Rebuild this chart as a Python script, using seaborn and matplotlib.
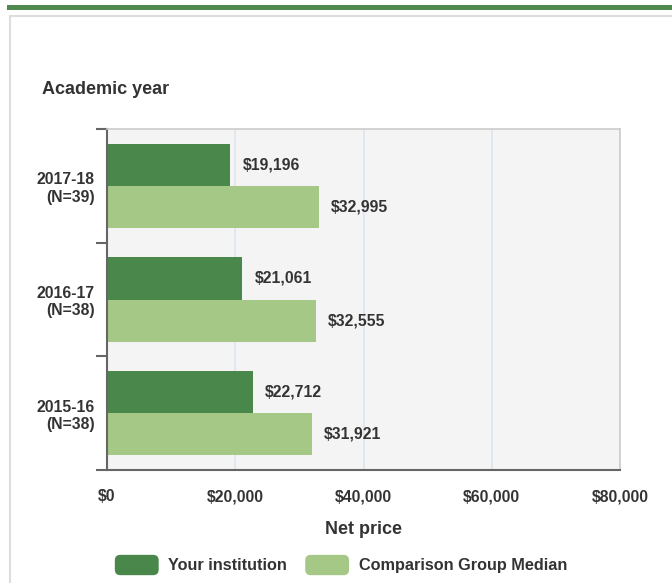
import pandas as pd
import matplotlib
matplotlib.use("Agg")
import matplotlib.pyplot as plt
import seaborn as sns
from matplotlib.patches import Rectangle, FancyBboxPatch
from matplotlib.legend_handler import HandlerPatch
from matplotlib.ticker import FuncFormatter, FixedLocator

years = ["2017-18\n(N=39)", "2016-17\n(N=38)", "2015-16\n(N=38)"]
your_institution = [19196, 21061, 22712]
comparison_median = [32995, 32555, 31921]
series_names = ["Your institution", "Comparison Group Median"]
colors = ["#4a874a", "#a6c887"]

df = pd.DataFrame({
    "year": years * 2,
    "price": your_institution + comparison_median,
    "group": [series_names[0]] * 3 + [series_names[1]] * 3,
})

sns.set_theme(style="white")
plt.rcParams["font.family"] = ["Liberation Sans", "DejaVu Sans"]

fig = plt.figure(figsize=(6.72, 5.83), dpi=100)

# page decoration: green strip and card border
fig.patches.append(Rectangle((7 / 672, 1 - 10 / 583), 1, 5 / 583, transform=fig.transFigure,
                             facecolor="#4e8a4e", edgecolor="none"))
fig.patches.append(Rectangle((10 / 672, -0.1), 1, 1 - 16 / 583 + 0.1, transform=fig.transFigure,
                             facecolor="none", edgecolor="#dddddd", linewidth=1.5))

ax = fig.add_axes([107 / 672, 113 / 583, 513 / 672, 341 / 583])
ax.set_facecolor("#f4f4f4")

sns.barplot(data=df, y="year", x="price", hue="group", orient="h",
            palette=colors, width=0.74, saturation=1, ax=ax, legend=False,
            edgecolor="none")

for c in ax.containers:
    ax.bar_label(c, labels=[f"${v:,.0f}" for v in c.datavalues], padding=9,
                 fontsize=11.3, fontweight="bold", color="#333333")

ax.set_xlim(0, 80000)
ax.set_ylim(2.5, -0.5)
ax.xaxis.set_major_locator(FixedLocator([0, 20000, 40000, 60000, 80000]))
ax.xaxis.set_major_formatter(FuncFormatter(lambda v, p: f"${v:,.0f}"))
ax.grid(axis="x", color="#dce5ee", linewidth=1.2)
ax.set_axisbelow(True)

ax.tick_params(axis="x", length=0, pad=14, labelsize=11.3, labelcolor="#333333")
ax.tick_params(axis="y", which="major", length=0, pad=9, labelsize=11.3, labelcolor="#333333")
ax.yaxis.set_minor_locator(FixedLocator([-0.5, 0.5, 1.5, 2.5]))
ax.tick_params(axis="y", which="minor", left=True, length=8, width=1.5, color="#666666")
for lbl in ax.get_xticklabels() + ax.get_yticklabels():
    lbl.set_fontweight("bold")
for lbl in ax.get_yticklabels():
    lbl.set_multialignment("right")

for side in ["top", "right"]:
    ax.spines[side].set_color("#cccccc")
    ax.spines[side].set_linewidth(1.2)
for side in ["left", "bottom"]:
    ax.spines[side].set_color("#666666")
    ax.spines[side].set_linewidth(1.5)

ax.set_ylabel("")
ax.set_xlabel("Net price", fontsize=13, fontweight="bold", color="#333333", labelpad=12)
fig.text(42 / 672, 1 - 90 / 583, "Academic year", fontsize=13, fontweight="bold",
         color="#333333", va="center", ha="left")


class RoundHandler(HandlerPatch):
    def create_artists(self, legend, orig_handle, xdescent, ydescent, width, height, fontsize, trans):
        p = FancyBboxPatch((-xdescent, -ydescent), width, height,
                           boxstyle="round,pad=0,rounding_size=4",
                           facecolor=orig_handle.get_facecolor(), edgecolor="none",
                           transform=trans)
        return [p]


handles = [Rectangle((0, 0), 1, 1, facecolor=c) for c in colors]
leg = fig.legend(handles, series_names, loc="center", bbox_to_anchor=(341 / 672, 1 - 565 / 583),
                 ncol=2, frameon=False, handlelength=2.7, handleheight=1.55, handletextpad=0.6,
                 columnspacing=1.1, prop={"weight": "bold", "size": 11.7},
                 handler_map={Rectangle: RoundHandler()})
for t in leg.get_texts():
    t.set_color("#333333")

fig.savefig("out.png", dpi=100)
